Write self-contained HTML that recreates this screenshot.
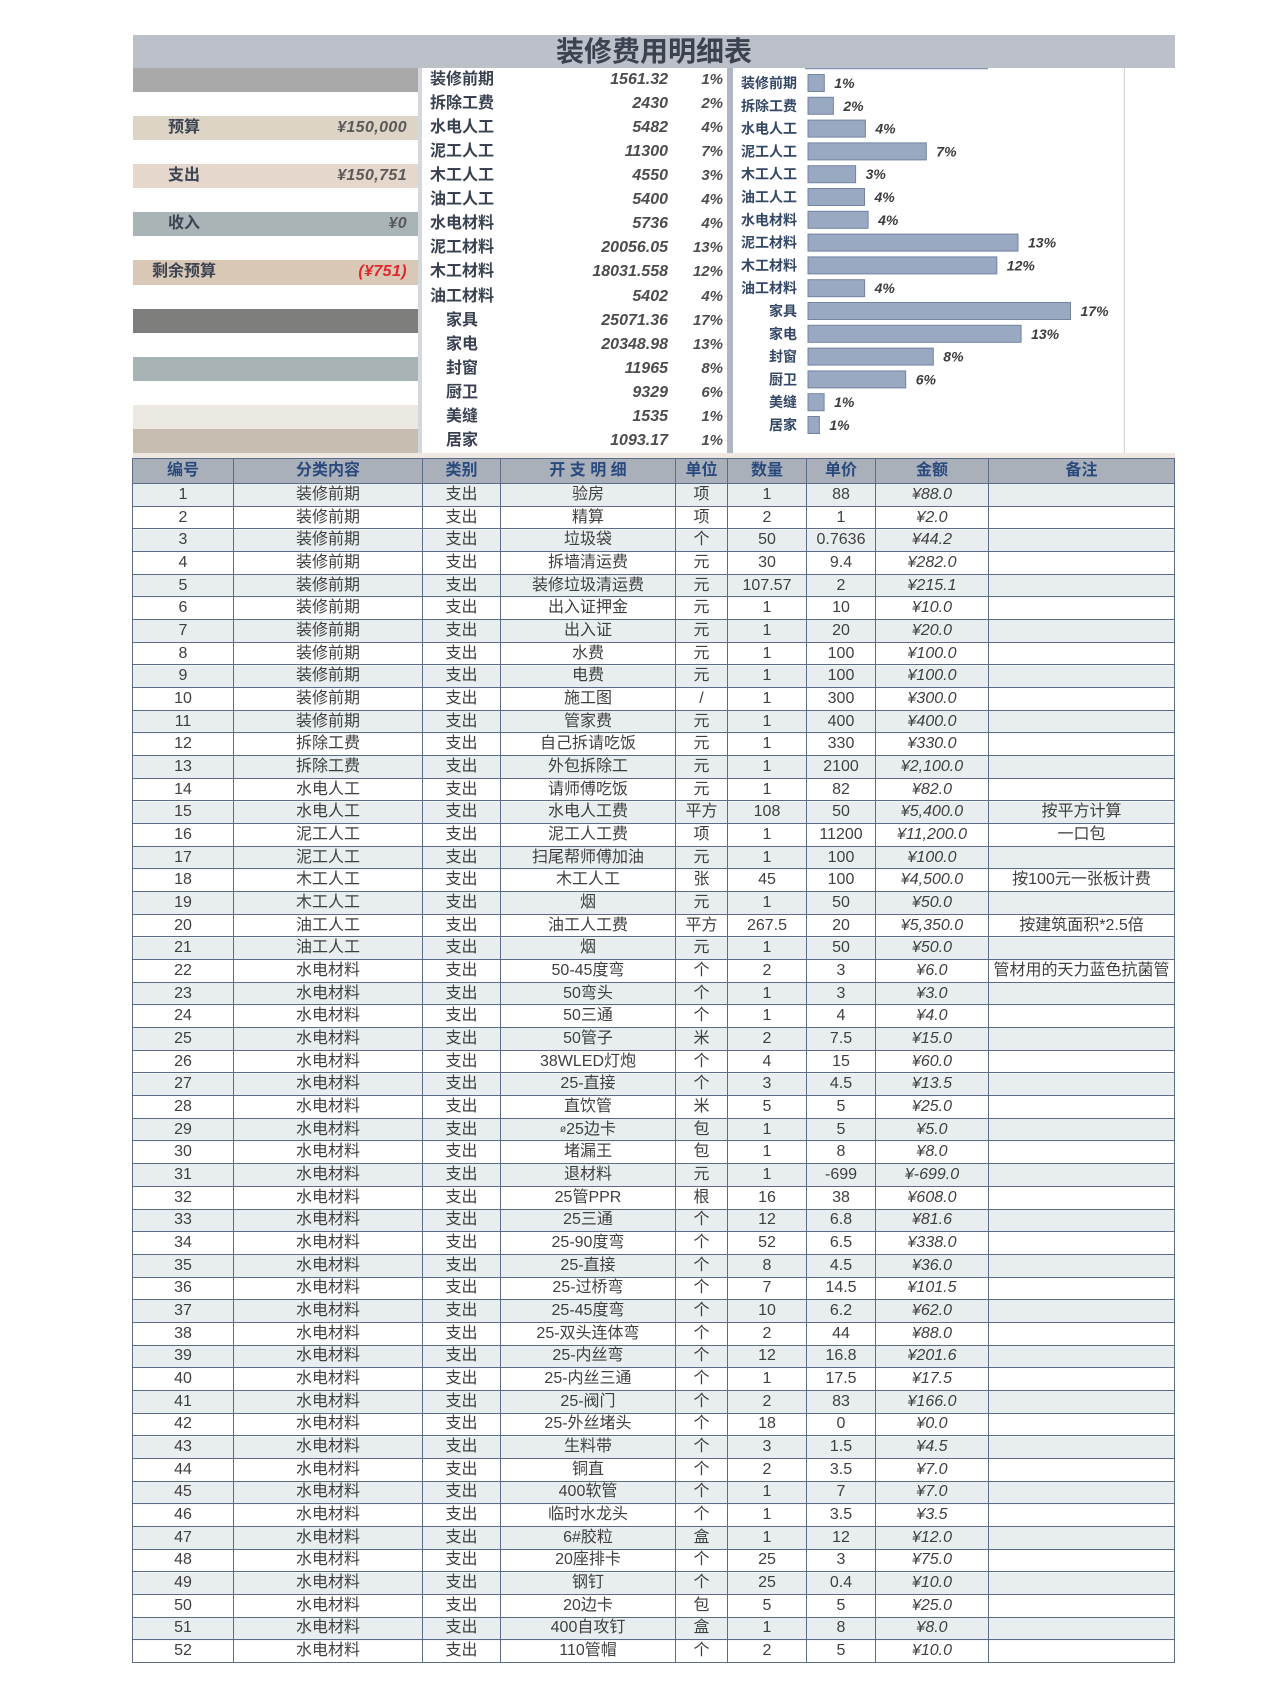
<!DOCTYPE html>
<html><head><meta charset="utf-8">
<style>
*{margin:0;padding:0;box-sizing:border-box}
body{width:1280px;height:1707px;background:#fff;position:relative;overflow:hidden;font-family:"Liberation Sans","Noto Sans CJK SC",sans-serif}
#title{position:absolute;left:133px;top:35px;width:1042px;height:33px;background:#bcc0c9;text-align:center;font-size:28px;font-weight:bold;color:#3c4250;line-height:33px}
.b{position:absolute;left:133px;width:285px;height:24.06px}
.b .l{position:absolute;left:35px;top:0;line-height:24px;font-size:16px;font-weight:bold;color:#3d4452}
.b .v{position:absolute;right:11px;top:0;line-height:24px;font-size:16px;font-weight:bold;font-style:italic;color:#5a5a5a;letter-spacing:0.4px}
.mr{position:absolute;left:422px;width:305px;height:24.06px;line-height:24.06px;font-size:16px;font-weight:bold;color:#3a4150}
.mr .ml{position:absolute;left:8px}
.mr .ml2{position:absolute;left:24px}
.mr .mn{position:absolute;right:59px;font-style:italic;color:#4d4d4d}
.mr .mp{position:absolute;right:4px;font-style:italic;color:#4d4d4d;font-size:15px}
.g{position:absolute;left:132px;top:458px;width:1043px;display:grid;grid-template-columns:101px 189px 78px 175px 52px 79px 69px 113px 186px;grid-template-rows:25px repeat(52,22.673px);border-left:1px solid #5d6c86;border-top:1px solid #5d6c86;
background:linear-gradient(#a9b0ba,#a9b0ba) 0 0/100% 25px no-repeat,repeating-linear-gradient(#e8eef0 0 22.673px,#fff 22.673px 45.346px) 0 25px/100% 1180px no-repeat;font-size:16px;color:#3f3f3f}
.g>div{border-right:1px solid #5d6c86;border-bottom:1px solid #5d6c86;display:flex;align-items:center;justify-content:center;white-space:nowrap;overflow:hidden;line-height:1}
.g>div:nth-child(9n+8){font-style:italic}
.g>.h{font-weight:bold;color:#2a4a7e;font-style:normal!important}
</style></head><body>
<div id="title">装修费用明细表</div>

<div class="b" style="top:68px;background:#a9a9a9"></div>
<div class="b" style="top:116.12px;background:#ddd4c5"><span class="l">预算</span><span class="v">¥150,000</span></div>
<div class="b" style="top:164.24px;background:#e5d7cc"><span class="l">支出</span><span class="v">¥150,751</span></div>
<div class="b" style="top:212.36px;background:#a8b4b6"><span class="l">收入</span><span class="v">¥0</span></div>
<div class="b" style="top:260.48px;background:#d9c8b5"><span class="l" style="left:19px">剩余预算</span><span class="v" style="color:#e2262b">(¥751)</span></div>
<div class="b" style="top:308.6px;background:#7e7e7c"></div>
<div class="b" style="top:356.72px;background:#a7b2b4"></div>
<div class="b" style="top:404.84px;background:#ece8e2"></div>
<div class="b" style="top:428.9px;background:#c7bdb0"></div>
<div style="position:absolute;left:418px;top:68px;width:4px;height:385px;background:#d4d8dc"></div>

<div class="mr" style="top:68px"><span class="ml">装修前期</span><span class="mn">1561.32</span><span class="mp">1%</span></div>
<div class="mr" style="top:92.06px"><span class="ml">拆除工费</span><span class="mn">2430</span><span class="mp">2%</span></div>
<div class="mr" style="top:116.12px"><span class="ml">水电人工</span><span class="mn">5482</span><span class="mp">4%</span></div>
<div class="mr" style="top:140.18px"><span class="ml">泥工人工</span><span class="mn">11300</span><span class="mp">7%</span></div>
<div class="mr" style="top:164.24px"><span class="ml">木工人工</span><span class="mn">4550</span><span class="mp">3%</span></div>
<div class="mr" style="top:188.3px"><span class="ml">油工人工</span><span class="mn">5400</span><span class="mp">4%</span></div>
<div class="mr" style="top:212.36px"><span class="ml">水电材料</span><span class="mn">5736</span><span class="mp">4%</span></div>
<div class="mr" style="top:236.42px"><span class="ml">泥工材料</span><span class="mn">20056.05</span><span class="mp">13%</span></div>
<div class="mr" style="top:260.48px"><span class="ml">木工材料</span><span class="mn">18031.558</span><span class="mp">12%</span></div>
<div class="mr" style="top:284.54px"><span class="ml">油工材料</span><span class="mn">5402</span><span class="mp">4%</span></div>
<div class="mr" style="top:308.6px"><span class="ml2">家具</span><span class="mn">25071.36</span><span class="mp">17%</span></div>
<div class="mr" style="top:332.66px"><span class="ml2">家电</span><span class="mn">20348.98</span><span class="mp">13%</span></div>
<div class="mr" style="top:356.72px"><span class="ml2">封窗</span><span class="mn">11965</span><span class="mp">8%</span></div>
<div class="mr" style="top:380.78px"><span class="ml2">厨卫</span><span class="mn">9329</span><span class="mp">6%</span></div>
<div class="mr" style="top:404.84px"><span class="ml2">美缝</span><span class="mn">1535</span><span class="mp">1%</span></div>
<div class="mr" style="top:428.9px"><span class="ml2">居家</span><span class="mn">1093.17</span><span class="mp">1%</span></div>

<div style="position:absolute;left:727px;top:68px;width:6px;height:385px;background:#aeb6bf"></div>

<svg style="position:absolute;left:733px;top:68px" width="392" height="385" viewBox="-1 0 392 385" font-family="Liberation Sans, Noto Sans CJK SC, sans-serif">
<rect x="-1" y="0" width="392" height="385" fill="#fff"/>
<line x1="390.5" y1="0" x2="390.5" y2="385" stroke="#d6d6d6" stroke-width="1.5"/>
<line x1="71" y1="0.5" x2="254" y2="0.5" stroke="#8796b0" stroke-width="1.5"/>
<g fill="#99a9c2" stroke="#7284a2" stroke-width="1">
<rect x="74" y="6.5" width="16.3" height="17"/>
<rect x="74" y="29.3" width="25.4" height="17"/>
<rect x="74" y="52.1" width="57.4" height="17"/>
<rect x="74" y="74.9" width="118.3" height="17"/>
<rect x="74" y="97.7" width="47.6" height="17"/>
<rect x="74" y="120.5" width="56.5" height="17"/>
<rect x="74" y="143.3" width="60.1" height="17"/>
<rect x="74" y="166.1" width="210" height="17"/>
<rect x="74" y="188.9" width="188.8" height="17"/>
<rect x="74" y="211.7" width="56.6" height="17"/>
<rect x="74" y="234.5" width="262.5" height="17"/>
<rect x="74" y="257.3" width="213.1" height="17"/>
<rect x="74" y="280.1" width="125.3" height="17"/>
<rect x="74" y="302.9" width="97.7" height="17"/>
<rect x="74" y="325.7" width="16.1" height="17"/>
<rect x="74" y="348.5" width="11.4" height="17"/>
</g>
<g font-size="14" font-weight="bold" fill="#344866" text-anchor="end">
<text x="63" y="20">装修前期</text>
<text x="63" y="42.8">拆除工费</text>
<text x="63" y="65.6">水电人工</text>
<text x="63" y="88.4">泥工人工</text>
<text x="63" y="111.2">木工人工</text>
<text x="63" y="134">油工人工</text>
<text x="63" y="156.8">水电材料</text>
<text x="63" y="179.6">泥工材料</text>
<text x="63" y="202.4">木工材料</text>
<text x="63" y="225.2">油工材料</text>
<text x="63" y="248">家具</text>
<text x="63" y="270.8">家电</text>
<text x="63" y="293.6">封窗</text>
<text x="63" y="316.4">厨卫</text>
<text x="63" y="339.2">美缝</text>
<text x="63" y="362">居家</text>
</g>
<g font-size="14" font-weight="bold" font-style="italic" fill="#3d3d3d">
<text x="100.3" y="20">1%</text>
<text x="109.4" y="42.8">2%</text>
<text x="141.4" y="65.6">4%</text>
<text x="202.3" y="88.4">7%</text>
<text x="131.6" y="111.2">3%</text>
<text x="140.5" y="134">4%</text>
<text x="144.1" y="156.8">4%</text>
<text x="294" y="179.6">13%</text>
<text x="272.8" y="202.4">12%</text>
<text x="140.6" y="225.2">4%</text>
<text x="346.5" y="248">17%</text>
<text x="297.1" y="270.8">13%</text>
<text x="209.3" y="293.6">8%</text>
<text x="181.7" y="316.4">6%</text>
<text x="100.1" y="339.2">1%</text>
<text x="95.4" y="362">1%</text>
</g>
</svg>

<div style="position:absolute;left:133px;top:453px;width:1042px;height:5px;background:#efe7e1"></div>

<div class="g">
<div class="h">编号</div><div class="h">分类内容</div><div class="h">类别</div><div class="h">开 支 明 细</div><div class="h">单位</div><div class="h">数量</div><div class="h">单价</div><div class="h">金额</div><div class="h">备注</div>
<div>1</div><div>装修前期</div><div>支出</div><div>验房</div><div>项</div><div>1</div><div>88</div><div>¥88.0</div><div></div>
<div>2</div><div>装修前期</div><div>支出</div><div>精算</div><div>项</div><div>2</div><div>1</div><div>¥2.0</div><div></div>
<div>3</div><div>装修前期</div><div>支出</div><div>垃圾袋</div><div>个</div><div>50</div><div>0.7636</div><div>¥44.2</div><div></div>
<div>4</div><div>装修前期</div><div>支出</div><div>拆墙清运费</div><div>元</div><div>30</div><div>9.4</div><div>¥282.0</div><div></div>
<div>5</div><div>装修前期</div><div>支出</div><div>装修垃圾清运费</div><div>元</div><div>107.57</div><div>2</div><div>¥215.1</div><div></div>
<div>6</div><div>装修前期</div><div>支出</div><div>出入证押金</div><div>元</div><div>1</div><div>10</div><div>¥10.0</div><div></div>
<div>7</div><div>装修前期</div><div>支出</div><div>出入证</div><div>元</div><div>1</div><div>20</div><div>¥20.0</div><div></div>
<div>8</div><div>装修前期</div><div>支出</div><div>水费</div><div>元</div><div>1</div><div>100</div><div>¥100.0</div><div></div>
<div>9</div><div>装修前期</div><div>支出</div><div>电费</div><div>元</div><div>1</div><div>100</div><div>¥100.0</div><div></div>
<div>10</div><div>装修前期</div><div>支出</div><div>施工图</div><div>/</div><div>1</div><div>300</div><div>¥300.0</div><div></div>
<div>11</div><div>装修前期</div><div>支出</div><div>管家费</div><div>元</div><div>1</div><div>400</div><div>¥400.0</div><div></div>
<div>12</div><div>拆除工费</div><div>支出</div><div>自己拆请吃饭</div><div>元</div><div>1</div><div>330</div><div>¥330.0</div><div></div>
<div>13</div><div>拆除工费</div><div>支出</div><div>外包拆除工</div><div>元</div><div>1</div><div>2100</div><div>¥2,100.0</div><div></div>
<div>14</div><div>水电人工</div><div>支出</div><div>请师傅吃饭</div><div>元</div><div>1</div><div>82</div><div>¥82.0</div><div></div>
<div>15</div><div>水电人工</div><div>支出</div><div>水电人工费</div><div>平方</div><div>108</div><div>50</div><div>¥5,400.0</div><div>按平方计算</div>
<div>16</div><div>泥工人工</div><div>支出</div><div>泥工人工费</div><div>项</div><div>1</div><div>11200</div><div>¥11,200.0</div><div>一口包</div>
<div>17</div><div>泥工人工</div><div>支出</div><div>扫尾帮师傅加油</div><div>元</div><div>1</div><div>100</div><div>¥100.0</div><div></div>
<div>18</div><div>木工人工</div><div>支出</div><div>木工人工</div><div>张</div><div>45</div><div>100</div><div>¥4,500.0</div><div>按100元一张板计费</div>
<div>19</div><div>木工人工</div><div>支出</div><div>烟</div><div>元</div><div>1</div><div>50</div><div>¥50.0</div><div></div>
<div>20</div><div>油工人工</div><div>支出</div><div>油工人工费</div><div>平方</div><div>267.5</div><div>20</div><div>¥5,350.0</div><div>按建筑面积*2.5倍</div>
<div>21</div><div>油工人工</div><div>支出</div><div>烟</div><div>元</div><div>1</div><div>50</div><div>¥50.0</div><div></div>
<div>22</div><div>水电材料</div><div>支出</div><div>50-45度弯</div><div>个</div><div>2</div><div>3</div><div>¥6.0</div><div>管材用的天力蓝色抗菌管</div>
<div>23</div><div>水电材料</div><div>支出</div><div>50弯头</div><div>个</div><div>1</div><div>3</div><div>¥3.0</div><div></div>
<div>24</div><div>水电材料</div><div>支出</div><div>50三通</div><div>个</div><div>1</div><div>4</div><div>¥4.0</div><div></div>
<div>25</div><div>水电材料</div><div>支出</div><div>50管子</div><div>米</div><div>2</div><div>7.5</div><div>¥15.0</div><div></div>
<div>26</div><div>水电材料</div><div>支出</div><div>38WLED灯炮</div><div>个</div><div>4</div><div>15</div><div>¥60.0</div><div></div>
<div>27</div><div>水电材料</div><div>支出</div><div>25-直接</div><div>个</div><div>3</div><div>4.5</div><div>¥13.5</div><div></div>
<div>28</div><div>水电材料</div><div>支出</div><div>直饮管</div><div>米</div><div>5</div><div>5</div><div>¥25.0</div><div></div>
<div>29</div><div>水电材料</div><div>支出</div><div><span style="font-size:10px">ø</span>25边卡</div><div>包</div><div>1</div><div>5</div><div>¥5.0</div><div></div>
<div>30</div><div>水电材料</div><div>支出</div><div>堵漏王</div><div>包</div><div>1</div><div>8</div><div>¥8.0</div><div></div>
<div>31</div><div>水电材料</div><div>支出</div><div>退材料</div><div>元</div><div>1</div><div>-699</div><div>¥-699.0</div><div></div>
<div>32</div><div>水电材料</div><div>支出</div><div>25管PPR</div><div>根</div><div>16</div><div>38</div><div>¥608.0</div><div></div>
<div>33</div><div>水电材料</div><div>支出</div><div>25三通</div><div>个</div><div>12</div><div>6.8</div><div>¥81.6</div><div></div>
<div>34</div><div>水电材料</div><div>支出</div><div>25-90度弯</div><div>个</div><div>52</div><div>6.5</div><div>¥338.0</div><div></div>
<div>35</div><div>水电材料</div><div>支出</div><div>25-直接</div><div>个</div><div>8</div><div>4.5</div><div>¥36.0</div><div></div>
<div>36</div><div>水电材料</div><div>支出</div><div>25-过桥弯</div><div>个</div><div>7</div><div>14.5</div><div>¥101.5</div><div></div>
<div>37</div><div>水电材料</div><div>支出</div><div>25-45度弯</div><div>个</div><div>10</div><div>6.2</div><div>¥62.0</div><div></div>
<div>38</div><div>水电材料</div><div>支出</div><div>25-双头连体弯</div><div>个</div><div>2</div><div>44</div><div>¥88.0</div><div></div>
<div>39</div><div>水电材料</div><div>支出</div><div>25-内丝弯</div><div>个</div><div>12</div><div>16.8</div><div>¥201.6</div><div></div>
<div>40</div><div>水电材料</div><div>支出</div><div>25-内丝三通</div><div>个</div><div>1</div><div>17.5</div><div>¥17.5</div><div></div>
<div>41</div><div>水电材料</div><div>支出</div><div>25-阀门</div><div>个</div><div>2</div><div>83</div><div>¥166.0</div><div></div>
<div>42</div><div>水电材料</div><div>支出</div><div>25-外丝堵头</div><div>个</div><div>18</div><div>0</div><div>¥0.0</div><div></div>
<div>43</div><div>水电材料</div><div>支出</div><div>生料带</div><div>个</div><div>3</div><div>1.5</div><div>¥4.5</div><div></div>
<div>44</div><div>水电材料</div><div>支出</div><div>铜直</div><div>个</div><div>2</div><div>3.5</div><div>¥7.0</div><div></div>
<div>45</div><div>水电材料</div><div>支出</div><div>400软管</div><div>个</div><div>1</div><div>7</div><div>¥7.0</div><div></div>
<div>46</div><div>水电材料</div><div>支出</div><div>临时水龙头</div><div>个</div><div>1</div><div>3.5</div><div>¥3.5</div><div></div>
<div>47</div><div>水电材料</div><div>支出</div><div>6#胶粒</div><div>盒</div><div>1</div><div>12</div><div>¥12.0</div><div></div>
<div>48</div><div>水电材料</div><div>支出</div><div>20座排卡</div><div>个</div><div>25</div><div>3</div><div>¥75.0</div><div></div>
<div>49</div><div>水电材料</div><div>支出</div><div>钢钉</div><div>个</div><div>25</div><div>0.4</div><div>¥10.0</div><div></div>
<div>50</div><div>水电材料</div><div>支出</div><div>20边卡</div><div>包</div><div>5</div><div>5</div><div>¥25.0</div><div></div>
<div>51</div><div>水电材料</div><div>支出</div><div>400自攻钉</div><div>盒</div><div>1</div><div>8</div><div>¥8.0</div><div></div>
<div>52</div><div>水电材料</div><div>支出</div><div>110管帽</div><div>个</div><div>2</div><div>5</div><div>¥10.0</div><div></div>
</div>
</body></html>
